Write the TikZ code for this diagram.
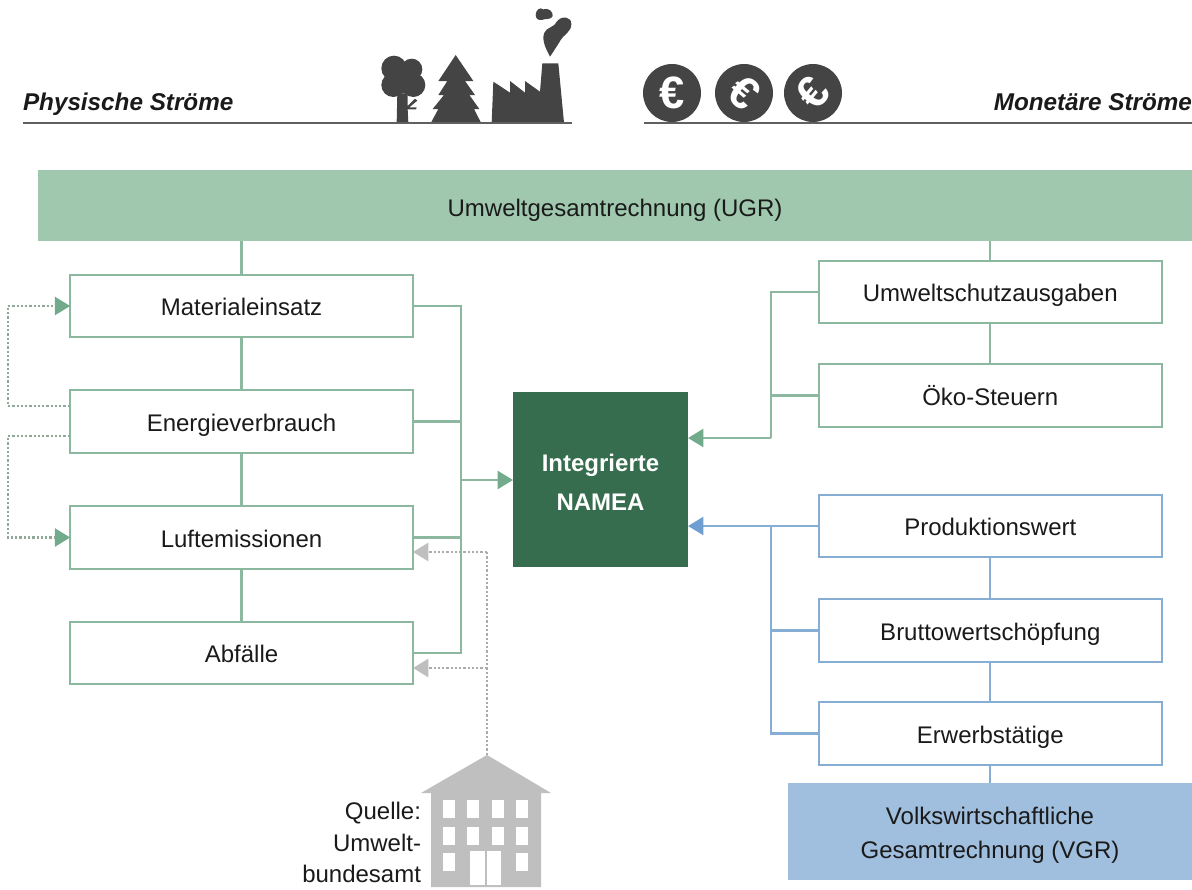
\documentclass[tikz,border=0pt]{standalone}
\usepackage{fontspec}
\setmainfont{Liberation Sans}
\usetikzlibrary{arrows.meta}
\definecolor{ugrgreen}{HTML}{A0C8AE}
\definecolor{vgrblue}{HTML}{A0BEDD}
\definecolor{darkgreen}{HTML}{366D4F}
\definecolor{linegreen}{HTML}{8CB89F}
\definecolor{tipgreen}{HTML}{72AB8C}
\definecolor{lineblue}{HTML}{86AED5}
\definecolor{tipblue}{HTML}{6F9FD0}
\definecolor{dotgreen}{HTML}{8FA898}
\definecolor{dotgrey}{HTML}{ABABAB}
\definecolor{housegrey}{HTML}{BFBFBF}
\definecolor{icongrey}{HTML}{444444}
\definecolor{txt}{HTML}{1A1A1A}
\newcommand{\fs}{\fontsize{18pt}{24pt}\selectfont}
\tikzset{
  x=0.75pt,y=-0.75pt,
  every node/.style={outer sep=0pt,inner sep=0pt,text=txt,font=\fs},
  gbox/.style={draw=linegreen,line width=1.7pt,fill=white,minimum width=257pt,minimum height=46.8pt,text height=14.6pt,text depth=0pt},
  bbox/.style={gbox,draw=lineblue},
  gline/.style={draw=linegreen,line width=1.7pt},
  bline/.style={draw=lineblue,line width=1.7pt},
  garrow/.style={gline,-{Triangle[length=11.5pt,width=13.5pt,color=tipgreen]}},
  barrow/.style={bline,-{Triangle[length=11.5pt,width=13.5pt,color=tipblue]}},
  gdot/.style={draw=dotgreen,line width=2pt,dash pattern=on 1.7pt off 1.5pt},
  gdotarrow/.style={gdot,-{Triangle[length=11.5pt,width=13.5pt,color=tipgreen]}},
  greydot/.style={draw=dotgrey,line width=2pt,dash pattern=on 1.7pt off 1.5pt},
  greyarrow/.style={greydot,-{Triangle[length=11.5pt,width=13.5pt,color=housegrey]}},
  heading/.style={font=\fontsize{18.2pt}{20pt}\selectfont\bfseries\itshape},
  rulegrey/.style={draw=icongrey!85!white,line width=1.5pt},
  coin/.style={circle,fill=icongrey,minimum size=43.5pt},
  eurosign/.style={text=white,font=\fontsize{34pt}{34pt}\selectfont\bfseries}
}
\begin{document}
\begin{tikzpicture}
\useasboundingbox (0,0) rectangle (1192,889);
% headings
\node[heading,anchor=base west] (phys) at (23,110) {Physische Ströme};
\node[heading,anchor=base east] (mone) at (1192,110) {Monetäre Ströme};
% icons: tree, fir, factory, smoke
\begin{scope}[shift={(370,-2)},x=0.25pt,y=-0.25pt,fill=icongrey]
\fill (72,211) circle (38*.25pt);
\fill (125,214) circle (32*.25pt);
\fill (70,261) circle (36*.25pt);
\fill (130,261) circle (36*.25pt);
\fill (100,246) circle (40*.25pt);
\fill (82,286) -- (113,286) -- (113,324) -- (135,302) -- (142,308) -- (118,328) -- (140,328) -- (138,334) -- (113,334) -- (115,374) -- (80,374) -- cycle;
\fill (257,171) -- (310,249) -- (285,249) -- (315,291) -- (298,291) -- (328,333) -- (312,333) -- (333,374) -- (183,374) -- (205,333) -- (188,333) -- (222,291) -- (205,291) -- (232,249) -- (205,249) -- cycle;
\fill (365,374) -- (370,251) -- (420,284) -- (420,249) -- (465,284) -- (465,249) -- (510,281) -- (517,196) -- (565,196) -- (582,374) -- cycle;
\fill (540,176) .. controls (530,156) and (515,131) .. (522,106) .. controls (530,86) and (550,91) .. (560,71) .. controls (575,51) and (605,56) .. (604,78) .. controls (605,101) and (580,111) .. (572,126) .. controls (560,146) and (550,161) .. (540,176) -- cycle;
\fill (497,51) .. controls (497,36) and (510,26) .. (520,34) .. controls (535,28) and (550,41) .. (548,54) .. controls (545,66) and (525,61) .. (515,66) .. controls (505,68) and (497,61) .. (497,51) -- cycle;
\end{scope}
\node[coin] (c1) at (672,93) {};
\node[coin] (c2) at (744,93) {};
\node[coin] (c3) at (813,93) {};
\node[eurosign] (e1) at (c1) {€};
\node[eurosign,rotate=-40] (e2) at (c2) {€};
\node[eurosign,rotate=50] (e3) at (c3) {€};
\draw[rulegrey] (23,123) -- (572,123);
\draw[rulegrey] (644,123) -- (1192,123);
% banners
\node[fill=ugrgreen,minimum width=865.5pt,minimum height=53.3pt,text height=16.5pt,text depth=0pt] (ugr) at (615,205.5) {Umweltgesamtrechnung (UGR)};
\node[fill=vgrblue,minimum width=303pt,minimum height=72.8pt] (vgr) at (990,831.5) {};
\node (vgr1) at (990,816) {Volkswirtschaftliche};
\node (vgr2) at (990,852) {Gesamtrechnung (VGR)};
\node[fill=darkgreen,minimum width=131.3pt,minimum height=131.3pt] (namea) at (600.5,479.5) {};
\node[text=white,font=\fs\bfseries] (n1) at (600.5,465) {Integrierte};
\node[text=white,font=\fs\bfseries] (n2) at (600.5,502) {NAMEA};
% left boxes
\node[gbox] (mat) at (241.5,306) {Materialeinsatz};
\node[gbox] (ene) at (241.5,421.5) {Energieverbrauch};
\node[gbox] (luf) at (241.5,537.5) {Luftemissionen};
\node[gbox] (abf) at (241.5,653) {Abfälle};
% right boxes
\node[gbox] (usa) at (990.3,292) {Umweltschutzausgaben};
\node[gbox] (oko) at (990.3,395.5) {Öko-Steuern};
\node[bbox] (pro) at (990.3,526) {Produktionswert};
\node[bbox] (bru) at (990.3,630.5) {Bruttowertschöpfung};
\node[bbox] (erw) at (990.3,733.5) {Erwerbstätige};
% vertical chains
\draw[gline] (ugr.south -| mat) -- (mat.north);
\draw[gline] (mat.south) -- (ene.north);
\draw[gline] (ene.south) -- (luf.north);
\draw[gline] (luf.south) -- (abf.north);
\draw[gline] (ugr.south -| usa) -- (usa.north);
\draw[gline] (usa.south) -- (oko.north);
\draw[bline] (pro.south) -- (bru.north);
\draw[bline] (bru.south) -- (erw.north);
\draw[bline] (erw.south) -- (vgr.north -| erw);
% left trunk
\coordinate (lt) at (461,480);
\draw[gline] (mat.east) -- (mat.east -| lt) -- (abf.east -| lt) -- (abf.east);
\draw[gline] (ene.east) -- (ene.east -| lt);
\draw[gline] (luf.east) -- (luf.east -| lt);
\draw[garrow] (lt) -- (namea.west |- lt);
% right green trunk
\coordinate (rg) at (771,438);
\draw[gline] (usa.west) -- (usa.west -| rg) -- (rg);
\draw[gline] (oko.west) -- (oko.west -| rg);
\draw[garrow] (rg) -- (namea.east |- rg);
% right blue trunk
\coordinate (rb) at (771,526);
\draw[barrow] (pro.west) -- (namea.east |- pro.west);
\draw[bline] (rb) -- (erw.west -| rb) -- (erw.west);
\draw[bline] (bru.west) -- (bru.west -| rb);
% dotted feedback
\coordinate (eu) at (70,406);
\coordinate (ed) at (70,436);
\coordinate (dl) at (8,421);
\draw[gdotarrow] (eu) -- (eu -| dl) -- (mat.west -| dl) -- (mat.west);
\draw[gdotarrow] (ed) -- (ed -| dl) -- (luf.west -| dl) -- (luf.west);
% house
\coordinate (roof) at (487,755);
\fill[housegrey] (roof) -- (551,793) -- (541,793) -- (541,887) -- (431,887) -- (431,793) -- (421,793) -- cycle;
\foreach \hx in {443,467,492,516}{
  \fill[white] (\hx,800) rectangle +(12,18);
  \fill[white] (\hx,827) rectangle +(12,18);
}
\fill[white] (443,853) rectangle +(12,18);
\fill[white] (516,853) rectangle +(12,18);
\fill[white] (470,851) rectangle (485,885);
\fill[white] (487,851) rectangle (501,885);
\node[anchor=base east] (q1) at (421,819) {Quelle:};
\node[anchor=base east] (q2) at (421,851) {Umwelt-};
\node[anchor=base east] (q3) at (421,882) {bundesamt};
% grey dotted
\coordinate (gl) at (413,552);
\coordinate (gm) at (413,668);
\draw[greydot] (roof) -- (gl -| roof);
\draw[greyarrow] (gl -| roof) -- (gl);
\draw[greyarrow] (gm -| roof) -- (gm);
\end{tikzpicture}
\end{document}
